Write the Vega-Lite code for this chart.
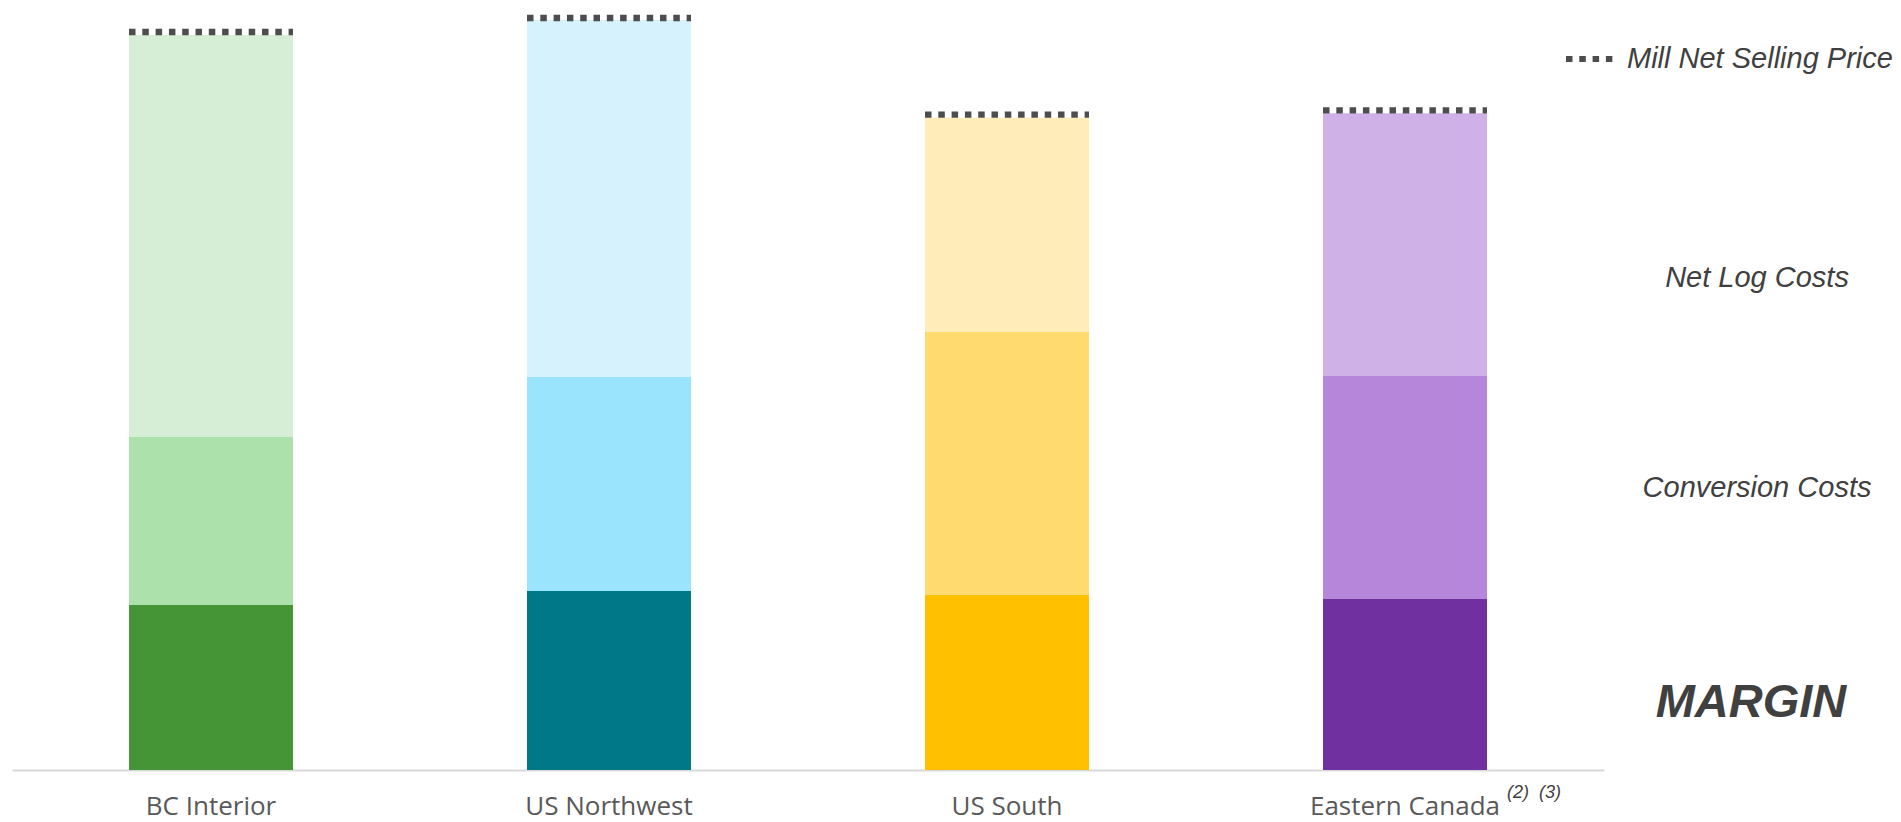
{
  "$schema": "https://vega.github.io/schema/vega-lite/v6.json",
  "width": 1592,
  "height": 770,
  "autosize": "none",
  "padding": {"left": 12, "top": 0, "right": 297, "bottom": 52},
  "background": "white",
  "config": {"view": {"stroke": null}},
  "datasets": {
    "segments": [
      {"region": "BC Interior", "component": "Margin", "tier": 1, "segment": "BC Interior Margin", "value": 165},
      {"region": "BC Interior", "component": "Conversion Costs", "tier": 2, "segment": "BC Interior Conversion Costs", "value": 168},
      {"region": "BC Interior", "component": "Net Log Costs", "tier": 3, "segment": "BC Interior Net Log Costs", "value": 402},
      {"region": "US Northwest", "component": "Margin", "tier": 1, "segment": "US Northwest Margin", "value": 179},
      {"region": "US Northwest", "component": "Conversion Costs", "tier": 2, "segment": "US Northwest Conversion Costs", "value": 214},
      {"region": "US Northwest", "component": "Net Log Costs", "tier": 3, "segment": "US Northwest Net Log Costs", "value": 357},
      {"region": "US South", "component": "Margin", "tier": 1, "segment": "US South Margin", "value": 175},
      {"region": "US South", "component": "Conversion Costs", "tier": 2, "segment": "US South Conversion Costs", "value": 263},
      {"region": "US South", "component": "Net Log Costs", "tier": 3, "segment": "US South Net Log Costs", "value": 214.3},
      {"region": "Eastern Canada", "component": "Margin", "tier": 1, "segment": "Eastern Canada Margin", "value": 171},
      {"region": "Eastern Canada", "component": "Conversion Costs", "tier": 2, "segment": "Eastern Canada Conversion Costs", "value": 223},
      {"region": "Eastern Canada", "component": "Net Log Costs", "tier": 3, "segment": "Eastern Canada Net Log Costs", "value": 262.7}
    ],
    "prices": [
      {"region": "BC Interior", "series": "Mill Net Selling Price", "price": 738},
      {"region": "US Northwest", "series": "Mill Net Selling Price", "price": 752},
      {"region": "US South", "series": "Mill Net Selling Price", "price": 655.3},
      {"region": "Eastern Canada", "series": "Mill Net Selling Price", "price": 659.7}
    ],
    "costLabels": [
      {"label": "Net Log Costs", "pos": 483},
      {"label": "Conversion Costs", "pos": 273}
    ],
    "marginLabel": [
      {"label": "MARGIN", "pos": 53}
    ],
    "notes": [
      {"region": "Eastern Canada", "note": "(2)\u00a0\u00a0(3)"}
    ]
  },
  "encoding": {
    "x": {
      "field": "region",
      "type": "nominal",
      "sort": ["BC Interior", "US Northwest", "US South", "Eastern Canada"],
      "scale": {"paddingInner": 0.588, "paddingOuter": 0.294},
      "title": null,
      "axis": {
        "labelFont": "Open Sans",
        "labelFontSize": 26,
        "labelColor": "#595959",
        "labelAngle": 0,
        "labelBaseline": "alphabetic",
        "labelPadding": 44,
        "labelLimit": 400,
        "domainColor": "#d9d9d9",
        "domainWidth": 2,
        "ticks": false,
        "tickSize": 0,
        "grid": false
      }
    }
  },
  "layer": [
    {
      "data": {"name": "segments"},
      "mark": {"type": "bar"},
      "encoding": {
        "y": {"field": "value", "type": "quantitative", "stack": "zero", "scale": {"domain": [0, 770], "nice": false, "zero": true}, "axis": null},
        "color": {
          "field": "segment",
          "type": "nominal",
          "scale": {
            "domain": [
              "BC Interior Margin", "BC Interior Conversion Costs", "BC Interior Net Log Costs",
              "US Northwest Margin", "US Northwest Conversion Costs", "US Northwest Net Log Costs",
              "US South Margin", "US South Conversion Costs", "US South Net Log Costs",
              "Eastern Canada Margin", "Eastern Canada Conversion Costs", "Eastern Canada Net Log Costs"
            ],
            "range": [
              "#459536", "#ade1ab", "#d6eed5",
              "#007888", "#9be4fe", "#d6f3fd",
              "#ffc000", "#ffda6e", "#ffecb8",
              "#7030a0", "#b586da", "#cfb0e7"
            ]
          },
          "legend": null
        },
        "order": {"field": "tier", "type": "quantitative"}
      }
    },
    {
      "data": {"name": "prices"},
      "mark": {"type": "rule", "color": "#4d4d4d", "strokeWidth": 6.3},
      "encoding": {
        "x": {"field": "region", "type": "nominal", "bandPosition": 0},
        "x2": {"field": "region", "bandPosition": 1},
        "y": {"field": "price", "type": "quantitative"},
        "strokeDash": {
          "field": "series",
          "type": "nominal",
          "scale": {"range": [[6.5, 6.8]]},
          "legend": {
            "orient": "none",
            "legendX": 1551,
            "legendY": 32,
            "title": null,
            "labelFont": "Liberation Sans",
            "labelFontStyle": "italic",
            "labelFontSize": 29,
            "labelColor": "#404040",
            "labelLimit": 400,
            "labelOffset": 10,
            "symbolType": "stroke",
            "symbolStrokeColor": "#4d4d4d",
            "symbolStrokeWidth": 6,
            "symbolSize": 2304
          }
        }
      }
    },
    {
      "data": {"name": "costLabels"},
      "mark": {"type": "text", "font": "Liberation Sans", "fontStyle": "italic", "fontSize": 29, "color": "#404040", "align": "center", "baseline": "alphabetic", "dx": 352},
      "encoding": {
        "x": {"datum": "Eastern Canada", "type": "nominal"},
        "y": {"field": "pos", "type": "quantitative"},
        "text": {"field": "label"}
      }
    },
    {
      "data": {"name": "marginLabel"},
      "mark": {"type": "text", "font": "Liberation Sans", "fontStyle": "italic", "fontWeight": "bold", "fontSize": 47, "color": "#404040", "align": "center", "baseline": "alphabetic", "dx": 346},
      "encoding": {
        "x": {"datum": "Eastern Canada", "type": "nominal"},
        "y": {"field": "pos", "type": "quantitative"},
        "text": {"field": "label"}
      }
    },
    {
      "data": {"name": "notes"},
      "mark": {"type": "text", "font": "Liberation Sans", "fontStyle": "italic", "fontSize": 18, "color": "#404040", "align": "left", "baseline": "alphabetic", "dx": 102, "dy": 28},
      "encoding": {
        "x": {"field": "region", "type": "nominal"},
        "y": {"datum": 0, "type": "quantitative"},
        "text": {"field": "note"}
      }
    }
  ]
}
